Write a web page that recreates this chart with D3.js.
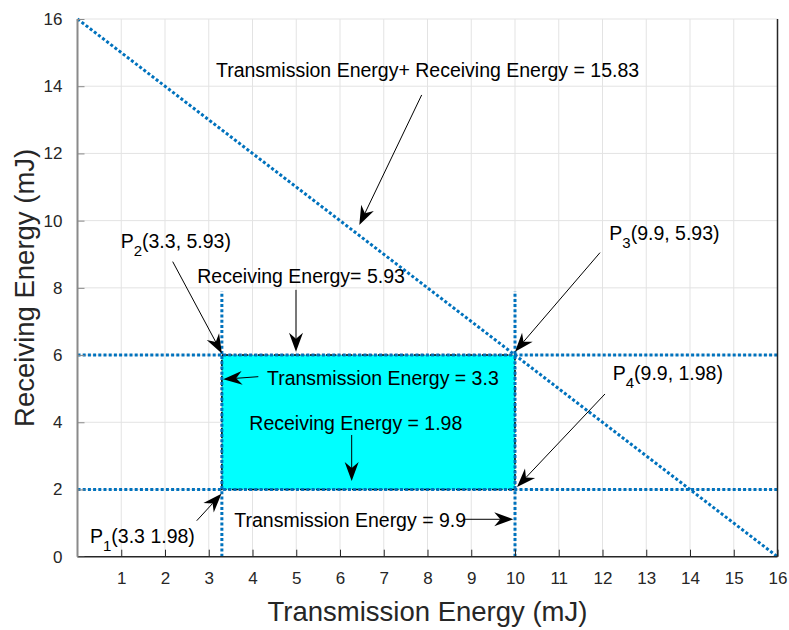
<!DOCTYPE html>
<html>
<head>
<meta charset="utf-8">
<script src="https://cdn.jsdelivr.net/npm/d3@7"></script>
<style>
  html, body { margin: 0; padding: 0; background: #fff; }
  svg { display: block; font-family: "Liberation Sans", Arial, Helvetica, sans-serif; }
</style>
</head>
<body>
<svg id="chart" width="789" height="630"></svg>
<script>
// ---------------- data ----------------
const xTicks = [1, 2, 3, 4, 5, 6, 7, 8, 9, 10, 11, 12, 13, 14, 15, 16];
const yTicks = [0, 2, 4, 6, 8, 10, 12, 14, 16];
const xDomain = [0, 16];
const yDomain = [0, 16];

// total energy line: Transmission + Receiving = const
const sumLineX = [0, 16];
const sumLineY = [16, 0];

// feasible region box (drawn corners)
const boxX = [3.3, 10];
const boxY = [2, 6];

// guide lines
const vGuideX = [3.3, 10];
const vGuideTop = 7.9;
const hGuideY = [2, 6];

// annotations (data coordinates)
const annTexts = [
  "Transmission Energy+ Receiving Energy = 15.83",
  "Receiving Energy= 5.93",
  "Transmission Energy = 3.3",
  "Receiving Energy = 1.98",
  "Transmission Energy = 9.9"
];
const annTextPos = [[3.166, 14.27], [2.738, 8.137], [4.331, 5.11], [3.927, 3.77], [3.584, 0.893]];

const pointNames = ["1", "2", "3", "4"];
const pointLabels = ["(3.3 1.98)", "(3.3, 5.93)", "(9.9, 5.93)", "(9.9, 1.98)"];
const pointLabelPos = [[0.286, 0.417], [0.987, 9.19], [12.155, 9.426], [12.233, 5.259]];

// arrows: [fromX, fromY, toX, toY]
const arrows = [
  [7.867, 13.74, 6.441, 9.87],
  [2.176, 8.78, 3.3, 6.05],
  [4.994, 7.94, 4.994, 6.1],
  [4.133, 5.357, 3.33, 5.28],
  [6.267, 3.622, 6.267, 2.25],
  [2.725, 1.071, 3.29, 1.87],
  [8.818, 1.113, 9.96, 1.113],
  [11.943, 9.048, 10.0, 6.1],
  [12.057, 4.842, 10.046, 2.074]
];

// ---------------- layout ----------------
const W = 789, H = 630;
const margin = { left: 77.5, right: 11.5, top: 19, bottom: 73.3 };
const svg = d3.select("#chart");

const x = d3.scaleLinear().domain(xDomain).range([margin.left, W - margin.right]);
const y = d3.scaleLinear().domain(yDomain).range([H - margin.bottom, margin.top]);

const blue = "#0072BD";
const dark = "#262626";

// grid
const grid = svg.append("g");
grid.selectAll("line.gx").data(xTicks).join("line")
  .attr("x1", d => x(d)).attr("x2", d => x(d))
  .attr("y1", y(yDomain[0])).attr("y2", y(yDomain[1]))
  .attr("stroke", "#e3e3e3").attr("stroke-width", 1);
grid.selectAll("line.gy").data(yTicks.filter(d => d > 0)).join("line")
  .attr("x1", x(xDomain[0])).attr("x2", x(xDomain[1]))
  .attr("y1", d => y(d)).attr("y2", d => y(d))
  .attr("stroke", "#e3e3e3").attr("stroke-width", 1);

// box
svg.append("rect")
  .attr("x", x(boxX[0])).attr("y", y(boxY[1]))
  .attr("width", x(boxX[1]) - x(boxX[0]))
  .attr("height", y(boxY[0]) - y(boxY[1]))
  .attr("fill", "#00FFFF")
  .attr("stroke", "#000").attr("stroke-width", 1.5)
  .attr("stroke-dasharray", "2.5,1.5");

// dotted lines
const dot = "3,2.2";
svg.selectAll("line.h").data(hGuideY).join("line")
  .attr("x1", x(xDomain[0])).attr("x2", x(xDomain[1]))
  .attr("y1", d => y(d)).attr("y2", d => y(d))
  .attr("stroke", blue).attr("stroke-width", 3).attr("stroke-dasharray", dot);
svg.selectAll("line.v").data(vGuideX).join("line")
  .attr("x1", d => x(d)).attr("x2", d => x(d))
  .attr("y1", y(0)).attr("y2", y(vGuideTop))
  .attr("stroke", blue).attr("stroke-width", 3).attr("stroke-dasharray", dot);
svg.append("path")
  .datum(sumLineX.map((v, i) => [v, sumLineY[i]]))
  .attr("d", d3.line().x(d => x(d[0])).y(d => y(d[1])))
  .attr("fill", "none").attr("stroke", blue).attr("stroke-width", 3).attr("stroke-dasharray", dot);

// axes
const xAxis = d3.axisBottom(x).tickValues(xTicks).tickSize(-7).tickPadding(15).tickFormat(d3.format("d"));
const yAxis = d3.axisLeft(y).tickValues(yTicks).tickSize(-7).tickPadding(15).tickFormat(d3.format("d"));

const gx = svg.append("g").attr("transform", `translate(0,${y(0)})`).call(xAxis);
gx.select(".domain").attr("stroke", dark).attr("stroke-width", 1.5).attr("d", `M${x(0)},0H${x(16)}`);
gx.selectAll(".tick line").attr("stroke", dark);
gx.selectAll(".tick text").attr("fill", dark).attr("font-size", 17)
  .attr("font-family", "Liberation Sans, Arial, sans-serif");

const gy = svg.append("g").attr("transform", `translate(${x(0)},0)`).call(yAxis);
gy.select(".domain").attr("stroke", "#8a8a8a").attr("stroke-width", 2).attr("d", `M0,${y(0)}V${y(16)}`);
gy.selectAll(".tick line").attr("stroke", "#8a8a8a");
gy.selectAll(".tick text").attr("fill", dark).attr("font-size", 17)
  .attr("font-family", "Liberation Sans, Arial, sans-serif");

// right border
svg.append("line")
  .attr("x1", x(16)).attr("x2", x(16)).attr("y1", y(0)).attr("y2", y(16))
  .attr("stroke", dark).attr("stroke-width", 1.5);

// axis labels
svg.append("text")
  .attr("x", (x(0) + x(16)) / 2 + 0).attr("y", 621)
  .attr("text-anchor", "middle").attr("font-size", 27.5).attr("fill", dark)
  .text("Transmission Energy (mJ)");
svg.append("text")
  .attr("transform", `translate(34,${(y(0) + y(16)) / 2}) rotate(-90)`)
  .attr("text-anchor", "middle").attr("font-size", 27.5).attr("fill", dark)
  .text("Receiving Energy (mJ)");

// annotation texts
svg.selectAll("text.ann").data(annTexts).join("text")
  .attr("class", "ann")
  .attr("x", (d, i) => x(annTextPos[i][0]))
  .attr("y", (d, i) => y(annTextPos[i][1]))
  .attr("font-size", 19.5).attr("fill", "#000")
  .text(d => d);

// point labels with subscripts
pointNames.forEach((n, i) => {
  const t = svg.append("text")
    .attr("x", x(pointLabelPos[i][0]))
    .attr("y", y(pointLabelPos[i][1]))
    .attr("font-size", 19.5).attr("fill", "#000");
  t.append("tspan").text("P");
  t.append("tspan").attr("font-size", 15).attr("dy", 8).text(n);
  t.append("tspan").attr("dy", -8).text(pointLabels[i]);
});

// arrows
const L = 19, HW = 7, NOTCH = 13;
arrows.forEach(a => {
  const x1 = x(a[0]), y1 = y(a[1]), x2 = x(a[2]), y2 = y(a[3]);
  const ang = Math.atan2(y2 - y1, x2 - x1);
  const ux = Math.cos(ang), uy = Math.sin(ang);
  const px = -uy, py = ux;
  svg.append("line")
    .attr("x1", x1).attr("y1", y1)
    .attr("x2", x2 - ux * NOTCH).attr("y2", y2 - uy * NOTCH)
    .attr("stroke", "#000").attr("stroke-width", 1);
  const pts = [
    [x2, y2],
    [x2 - ux * L + px * HW, y2 - uy * L + py * HW],
    [x2 - ux * NOTCH, y2 - uy * NOTCH],
    [x2 - ux * L - px * HW, y2 - uy * L - py * HW]
  ];
  svg.append("path")
    .attr("d", "M" + pts.map(p => p.join(",")).join("L") + "Z")
    .attr("fill", "#000");
});
</script>
</body>
</html>
